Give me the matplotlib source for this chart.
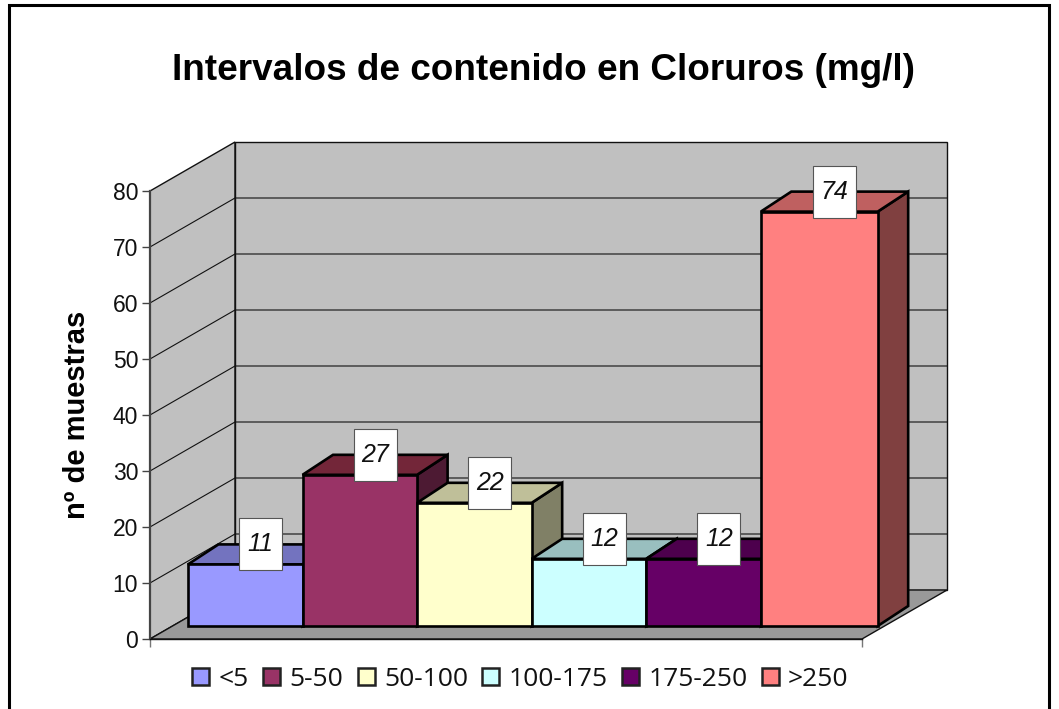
import matplotlib
matplotlib.use("Agg")
from matplotlib import pyplot as plt
from matplotlib.patches import Polygon, Rectangle, Patch

# Data
categories = ["<5", "5-50", "50-100", "100-175", "175-250", ">250"]
values = [11, 27, 22, 12, 12, 74]
yticks = [0, 10, 20, 30, 40, 50, 60, 70, 80]
colors = ["#9999FF", "#993366", "#FFFFCC", "#CCFFFF", "#660066", "#FF8080"]
tops = ["#7373BF", "#732639", "#BFBF99", "#99BFBF", "#4D004D", "#BF6060"]
sides = ["#4D4D80", "#4D1A33", "#808066", "#668080", "#330033", "#804040"]

W, H = 1059, 709
fig = plt.figure(figsize=(W / 100, H / 100), dpi=100)
fig.patch.set_facecolor("white")

# outer frame, runs off the bottom of the picture
fig.add_artist(Rectangle((8.5 / W, -0.02), 1040.5 / W, 1.02 - 4.5 / H, transform=fig.transFigure,
                         fill=False, ec="black", lw=2.2))

# axes = front plane of the 3D box
ax = fig.add_axes([150 / W, (H - 639) / H, 712 / W, 448 / H])
ax.set_xlim(0, 6)
ax.set_ylim(0, 80)
ax.patch.set_visible(False)

# oblique depth, in data units per unit of depth
PX = 712 / 6
PY = 448 / 80
DX = 85 / PX
DY = 49 / PY


def proj(x, y, d):
    return (x + d * DX, y + d * DY)


def face(pts, fc, ec="black", lw=1.0, z=1):
    ax.add_patch(Polygon(pts, closed=True, fc=fc, ec=ec, lw=lw,
                         zorder=z, clip_on=False, joinstyle="miter"))


# walls and floor
face([proj(0, 0, 0), proj(0, 80, 0), proj(0, 80, 1), proj(0, 0, 1)], "#C0C0C0", ec="#111111")
face([proj(0, 0, 1), proj(0, 80, 1), proj(6, 80, 1), proj(6, 0, 1)], "#C0C0C0", ec="#111111")
face([proj(0, 0, 0), proj(6, 0, 0), proj(6, 0, 1), proj(0, 0, 1)], "#999999", ec="#111111")
for t in yticks[1:-1]:
    xs, ys = zip(proj(0, t, 0), proj(0, t, 1), proj(6, t, 1))
    ax.plot(xs, ys, color="#111111", lw=0.8, zorder=1.5, clip_on=False)

# bars
x0 = 0.13
bw = 0.9655
d0 = 0.265
bar_dx = 30.5 / PX
bar_dy = 20 / PY
for i, v in enumerate(values):
    a = x0 + i * bw
    b = a + bw
    if i == len(values) - 1:
        b = a + bw * 1.02
    ax0, y0 = proj(a, 0, d0)
    bx0, _ = proj(b, 0, d0)
    yv = y0 + v
    face([(bx0, y0), (bx0 + bar_dx, y0 + bar_dy), (bx0 + bar_dx, yv + bar_dy), (bx0, yv)],
         sides[i], lw=1.9, z=3 + i)
    face([(ax0, yv), (bx0, yv), (bx0 + bar_dx, yv + bar_dy), (ax0 + bar_dx, yv + bar_dy)],
         tops[i], lw=1.9, z=3 + i)
    face([(ax0, y0), (bx0, y0), (bx0, yv), (ax0, yv)], colors[i], lw=1.9, z=3 + i)

    # value labels sit on the back edge of the bar top
    box_w = 43 / PX
    box_h = 52 / PY
    cx = (ax0 + bx0 + bar_dx) / 2
    cy = yv + bar_dy
    ax.add_patch(Rectangle((cx - box_w / 2, cy - box_h / 2), box_w, box_h, fc="white",
                           ec="#555555", lw=0.8, zorder=20, clip_on=False))
    ax.text(cx, cy, str(v), ha="center", va="center", fontsize=18, style="italic",
            family="Liberation Sans", zorder=21, color="#111111")

# axes furniture
for s in ["top", "right"]:
    ax.spines[s].set_visible(False)
ax.spines["left"].set_color("#444444")
ax.spines["left"].set_linewidth(1.6)
ax.spines["bottom"].set_color("#111111")
ax.spines["bottom"].set_linewidth(1.0)
ax.set_yticks(yticks)
ax.set_xticks([0, 6])
ax.set_xticklabels(["", ""])
ax.tick_params(axis="y", length=5.5, width=1, color="#444444", pad=3)
ax.tick_params(axis="x", length=5.5, width=1, color="#777777")
for lab in ax.get_yticklabels():
    lab.set_family("Liberation Sans")
    lab.set_fontsize(16.5)
    lab.set_color("#111111")

fig.text(77 / W, 1 - 415 / H, "nº de muestras", rotation=90, ha="center", va="center",
         family="Liberation Sans", weight="bold", fontsize=21, color="black")
fig.text(544 / W, 1 - 70 / H, "Intervalos de contenido en Cloruros (mg/l)", ha="center",
         va="center", family="Liberation Sans", weight="bold", fontsize=26.6, color="black")

handles = [Patch(fc=c, ec="#222222", lw=1.8, label=n) for c, n in zip(colors, categories)]
fig.legend(handles=handles, ncol=6, loc="center", bbox_to_anchor=(520.5 / W, 1 - 679 / H),
           frameon=False, prop={"family": "Open Sans", "size": 19}, handlelength=0.64,
           handleheight=0.64, handletextpad=0.35, columnspacing=0.55, borderpad=0, borderaxespad=0,
           labelcolor="#111111")

fig.savefig("out.png", dpi=100)
